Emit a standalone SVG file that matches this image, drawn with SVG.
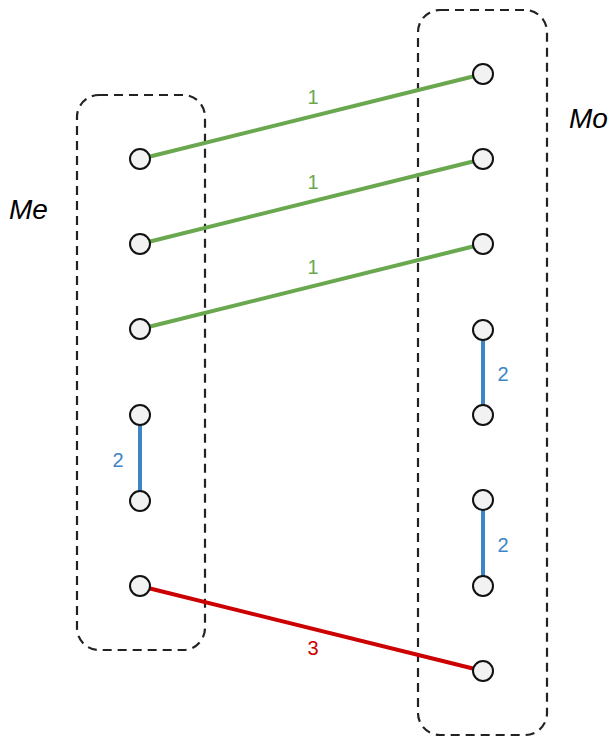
<svg xmlns="http://www.w3.org/2000/svg" width="616" height="740" viewBox="0 0 616 740">
<style>
.box{fill:none;stroke:#222;stroke-width:2.2;stroke-dasharray:9 6}
.n{fill:#f2f2f2;stroke:#111;stroke-width:2}
.g{stroke:#6aa84f;stroke-width:4;fill:none}
.b{stroke:#3d85c6;stroke-width:4;fill:none}
.r{stroke:#cc0000;stroke-width:4;fill:none}
.lbl{font-family:"Liberation Sans",Arial,sans-serif;font-size:20px;text-anchor:middle}
.m{font-family:"Liberation Sans",Arial,sans-serif;font-size:28px;font-style:italic}
</style>
<g id="Me">
<rect class="box" x="77" y="95" width="128" height="555" rx="22"/>
<text class="m" x="9" y="219">Me</text>
</g>
<g id="Mo">
<rect class="box" x="418" y="10" width="129" height="725" rx="22"/>
<text class="m" x="569" y="128">Mo</text>
</g>
<g id="connectors">
<line class="g" x1="140" y1="159" x2="483" y2="74"/>
<line class="g" x1="140" y1="244" x2="483" y2="159"/>
<line class="g" x1="140" y1="329" x2="483" y2="244"/>
<line class="b" x1="140" y1="415" x2="140" y2="501"/>
<line class="b" x1="483" y1="330" x2="483" y2="415"/>
<line class="b" x1="483" y1="500" x2="483" y2="586"/>
<line class="r" x1="140" y1="586" x2="483" y2="671"/>
<text class="lbl" x="313" y="104" fill="#6aa84f">1</text>
<text class="lbl" x="313" y="189" fill="#6aa84f">1</text>
<text class="lbl" x="313" y="274" fill="#6aa84f">1</text>
<text class="lbl" x="118" y="467" fill="#3d85c6">2</text>
<text class="lbl" x="503" y="381" fill="#3d85c6">2</text>
<text class="lbl" x="503" y="552" fill="#3d85c6">2</text>
<text class="lbl" x="313" y="655" fill="#cc0000">3</text>
</g>
<g id="left-nodes">
<circle id="e1" class="n" cx="140" cy="159" r="10"/>
<circle id="e2" class="n" cx="140" cy="244" r="10"/>
<circle id="e3" class="n" cx="140" cy="329" r="10"/>
<circle id="e4" class="n" cx="140" cy="415" r="10"/>
<circle id="e5" class="n" cx="140" cy="501" r="10"/>
<circle id="e6" class="n" cx="140" cy="586" r="10"/>
</g>
<g id="right-nodes">
<circle id="o1" class="n" cx="483" cy="74" r="10"/>
<circle id="o2" class="n" cx="483" cy="159" r="10"/>
<circle id="o3" class="n" cx="483" cy="244" r="10"/>
<circle id="o4" class="n" cx="483" cy="330" r="10"/>
<circle id="o5" class="n" cx="483" cy="415" r="10"/>
<circle id="o6" class="n" cx="483" cy="500" r="10"/>
<circle id="o7" class="n" cx="483" cy="586" r="10"/>
<circle id="o8" class="n" cx="483" cy="671" r="10"/>
</g>
</svg>
